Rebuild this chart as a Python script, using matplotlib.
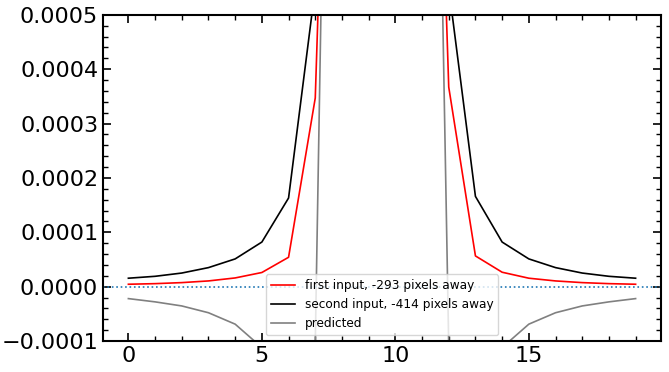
import numpy as np
import matplotlib
matplotlib.use("Agg")
import matplotlib.pyplot as plt
from matplotlib.ticker import MultipleLocator, FuncFormatter

# values (middle points run far off the top of the plot)
x = np.arange(20)
first_input = [4.4e-6, 5.5e-6, 7.4e-6, 1.05e-5, 1.6e-5, 2.6e-5, 5.4e-5, 3.47e-4, 1.87e-3, 5.0e-3,
               5.0e-3, 1.87e-3, 3.67e-4, 5.65e-5, 2.65e-5, 1.55e-5, 1.05e-5, 7.4e-6, 5.5e-6, 4.4e-6]
second_input = [1.55e-5, 1.9e-5, 2.5e-5, 3.5e-5, 5.1e-5, 8.2e-5, 1.63e-4, 5.5e-4, 2.5e-3, 6.0e-3,
                6.0e-3, 2.5e-3, 5.5e-4, 1.66e-4, 8.2e-5, 5.1e-5, 3.5e-5, 2.5e-5, 1.9e-5, 1.55e-5]
predicted = [-2.2e-5, -2.8e-5, -3.55e-5, -4.8e-5, -6.9e-5, -1.12e-4, -1.6e-4, -1.05e-4, 2.75e-3, 8.0e-3,
             8.0e-3, 2.6e-3, -1.1e-4, -1.6e-4, -1.12e-4, -6.9e-5, -4.8e-5, -3.55e-5, -2.8e-5, -2.2e-5]

labels = ["first input, -293 pixels away", "second input, -414 pixels away", "predicted"]

plt.rcParams["xtick.direction"] = "in"
plt.rcParams["ytick.direction"] = "in"
plt.rcParams["xtick.top"] = True
plt.rcParams["ytick.right"] = True

fig = plt.figure(figsize=(6.69, 3.72), dpi=100)
ax = fig.add_axes([0.154, 0.0833, 0.834, 0.877])

ax.plot(x, first_input, color="red", lw=1.2, label=labels[0])
ax.plot(x, second_input, color="black", lw=1.2, label=labels[1])
ax.plot(x, predicted, color="gray", lw=1.2, label=labels[2])
ax.axhline(0, color="C0", ls=":", lw=1.2)

ax.set_ylim(-0.0001, 0.0005)
ax.set_xlim(-0.95, 19.95)
ax.yaxis.set_major_locator(MultipleLocator(0.0001))
ax.yaxis.set_minor_locator(MultipleLocator(0.00002))
ax.xaxis.set_major_locator(MultipleLocator(5))
ax.xaxis.set_minor_locator(MultipleLocator(1))
ax.yaxis.set_major_formatter(FuncFormatter(lambda v, p: ("%.4f" % v).replace("-", "\u2212")))

ax.tick_params(which="major", length=6, width=1.2, labelsize=16)
ax.tick_params(which="minor", length=3.5, width=1.0)
for s in ax.spines.values():
    s.set_linewidth(1.5)

ax.legend(loc="lower center", fontsize=8.7)

plt.savefig("out.png", dpi=100)
